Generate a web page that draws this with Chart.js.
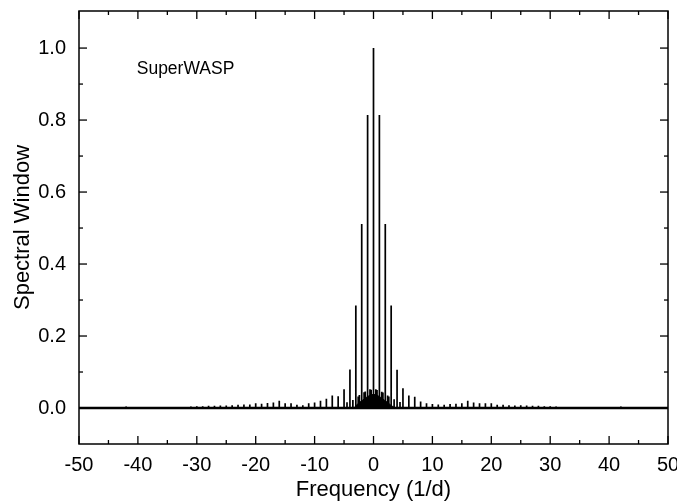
<!DOCTYPE html>
<html>
<head>
<meta charset="utf-8">
<script src="https://cdn.jsdelivr.net/npm/chart.js@4/dist/chart.umd.min.js"></script>
<style>
  html, body { margin: 0; padding: 0; background: #fff; }
  #wrap { width: 677px; height: 501px; }
</style>
</head>
<body>
<div id="wrap"><canvas id="c" width="677" height="501"></canvas></div>
<script>
// ---- data ----
const mainFreq  = [-7, -6, -5, -4, -3, -2, -1, 0, 1, 2, 3, 4, 5, 6, 7];
const mainPower = [0.035, 0.033, 0.052, 0.107, 0.285, 0.511, 0.814, 1.0, 0.814, 0.511, 0.285, 0.106, 0.055, 0.035, 0.031];

const sideFreq  = [-48, -46, -42, -31, -30, -29, -28, -27, -26, -25, -24, -23, -22, -21, -20, -19, -18, -17, -16, -15, -14, -13, -12, -11, -10, -9, -8,
                   8, 9, 10, 11, 12, 13, 14, 15, 16, 17, 18, 19, 20, 21, 22, 23, 24, 25, 26, 27, 28, 29, 30, 31, 41, 42, 47, 48];
const sidePower = [0.002, 0.002, 0.004, 0.004, 0.005, 0.005, 0.006, 0.006, 0.007, 0.007, 0.008, 0.009, 0.010, 0.010, 0.013, 0.012, 0.014, 0.015, 0.020, 0.013, 0.013, 0.009, 0.008, 0.013, 0.015, 0.020, 0.026,
                   0.018, 0.013, 0.011, 0.010, 0.009, 0.011, 0.012, 0.013, 0.020, 0.015, 0.013, 0.013, 0.013, 0.009, 0.009, 0.008, 0.007, 0.008, 0.007, 0.006, 0.006, 0.005, 0.005, 0.004, 0.003, 0.004, 0.003, 0.003];

const humpFreq  = [-4.5, -3.5, -2.6, -2.4, -1.6, -1.4, -0.6, -0.4, 0.4, 0.6, 1.4, 1.6, 2.4, 2.6, 3.5, 4.5];
const humpPower = [0.016, 0.022, 0.032, 0.036, 0.044, 0.046, 0.052, 0.051, 0.052, 0.050, 0.045, 0.043, 0.035, 0.032, 0.024, 0.017];

const moundFreq  = [-3.2, -2.5, -2.0, -1.5, -1.0, -0.5, 0.0, 0.5, 1.0, 1.5, 2.0, 2.5, 3.0, 3.5];
const moundPower = [0.003, 0.014, 0.020, 0.026, 0.032, 0.036, 0.038, 0.036, 0.032, 0.026, 0.020, 0.014, 0.007, 0.002];

const xTickValues  = [-50, -40, -30, -20, -10, 0, 10, 20, 30, 40, 50];
const xMinorValues = [-45, -35, -25, -15, -5, 5, 15, 25, 35, 45];
const yTickValues  = [0.0, 0.2, 0.4, 0.6, 0.8, 1.0];
const yMinorValues = [0.1, 0.3, 0.5, 0.7, 0.9];

const labelText = "SuperWASP";
const xTitle = "Frequency (1/d)";
const yTitle = "Spectral Window";

// ---- build line data (vertical spikes) from the arrays ----
const allSpikes = [];
mainFreq.forEach((f, i) => allSpikes.push([f, mainPower[i]]));
sideFreq.forEach((f, i) => allSpikes.push([f, sidePower[i]]));
humpFreq.forEach((f, i) => allSpikes.push([f, humpPower[i]]));
allSpikes.sort((a, b) => a[0] - b[0]);
const spikeData = [];
allSpikes.forEach(([f, h]) => {
  spikeData.push({x: f, y: 0});
  spikeData.push({x: f, y: h});
  spikeData.push({x: f, y: 0});
});
const moundData = moundFreq.map((f, i) => ({x: f, y: moundPower[i]}));
const baseData = [{x: -50, y: 0}, {x: 50, y: 0}];

const FONT = "'Liberation Sans', Arial, sans-serif";

const framePlugin = {
  id: 'frame',
  afterDatasetsDraw(chart) {
    const {ctx, chartArea: a, scales: {x, y}} = chart;
    ctx.save();
    ctx.strokeStyle = '#000';
    ctx.lineWidth = 1.5;
    ctx.strokeRect(a.left, a.top, a.right - a.left, a.bottom - a.top);
    ctx.lineWidth = 1.3;
    const tick = (x1, y1, x2, y2) => { ctx.beginPath(); ctx.moveTo(x1, y1); ctx.lineTo(x2, y2); ctx.stroke(); };
    const MAJ = 8, MIN = 4;
    xTickValues.forEach(v => { const px = x.getPixelForValue(v); tick(px, a.bottom, px, a.bottom - MAJ); tick(px, a.top, px, a.top + MAJ); });
    xMinorValues.forEach(v => { const px = x.getPixelForValue(v); tick(px, a.bottom, px, a.bottom - MIN); tick(px, a.top, px, a.top + MIN); });
    yTickValues.forEach(v => { const py = y.getPixelForValue(v); tick(a.left, py, a.left + MAJ, py); tick(a.right, py, a.right - MAJ, py); });
    yMinorValues.forEach(v => { const py = y.getPixelForValue(v); tick(a.left, py, a.left + MIN, py); tick(a.right, py, a.right - MIN, py); });
    // in-plot label
    ctx.fillStyle = '#000';
    ctx.font = '17.5px ' + FONT;
    ctx.textAlign = 'left';
    ctx.textBaseline = 'middle';
    ctx.fillText(labelText, x.getPixelForValue(-40.2), y.getPixelForValue(0.941));
    ctx.restore();
  }
};

new Chart(document.getElementById('c'), {
  type: 'line',
  data: {
    datasets: [
      { data: baseData, borderColor: '#000', borderWidth: 2.5, pointRadius: 0, fill: false },
      { data: moundData, borderColor: '#000', backgroundColor: '#000', borderWidth: 1, pointRadius: 0, fill: 'origin' },
      { data: spikeData, borderColor: '#000', borderWidth: 1.7, pointRadius: 0, fill: false }
    ]
  },
  options: {
    responsive: false,
    animation: false,
    parsing: false,
    normalized: true,
    layout: { padding: { top: 11, right: 9, left: 0, bottom: 0 } },
    plugins: { legend: { display: false }, tooltip: { enabled: false } },
    elements: { line: { tension: 0 } },
    scales: {
      x: {
        type: 'linear', min: -50, max: 50,
        grid: { display: false, drawTicks: false },
        border: { display: false },
        afterBuildTicks: s => { s.ticks = xTickValues.map(v => ({value: v})); },
        afterFit: s => { s.height = 57; s.paddingLeft = 0; s.paddingRight = 0; },
        ticks: { color: '#000', font: { size: 20, family: FONT }, padding: 9, maxRotation: 0, autoSkip: false,
                 callback: v => String(v) },
        title: { display: true, text: xTitle, color: '#000', font: { size: 22, family: FONT, lineHeight: 1.0 }, padding: { top: 0, bottom: 0 } }
      },
      y: {
        type: 'linear', min: -0.1, max: 1.103,
        grid: { display: false, drawTicks: false },
        border: { display: false },
        afterBuildTicks: s => { s.ticks = yTickValues.map(v => ({value: v})); },
        afterFit: s => { s.width = 79; s.paddingTop = 0; s.paddingBottom = 0; },
        ticks: { color: '#000', font: { size: 20, family: FONT }, padding: 13, autoSkip: false,
                 callback: v => Math.abs(v).toFixed(1) === '0.0' ? '0.0' : v.toFixed(1) },
        title: { display: true, text: yTitle, color: '#000', font: { size: 22, family: FONT }, padding: { top: 10, bottom: 0 } }
      }
    }
  },
  plugins: [framePlugin]
});
</script>
</body>
</html>
